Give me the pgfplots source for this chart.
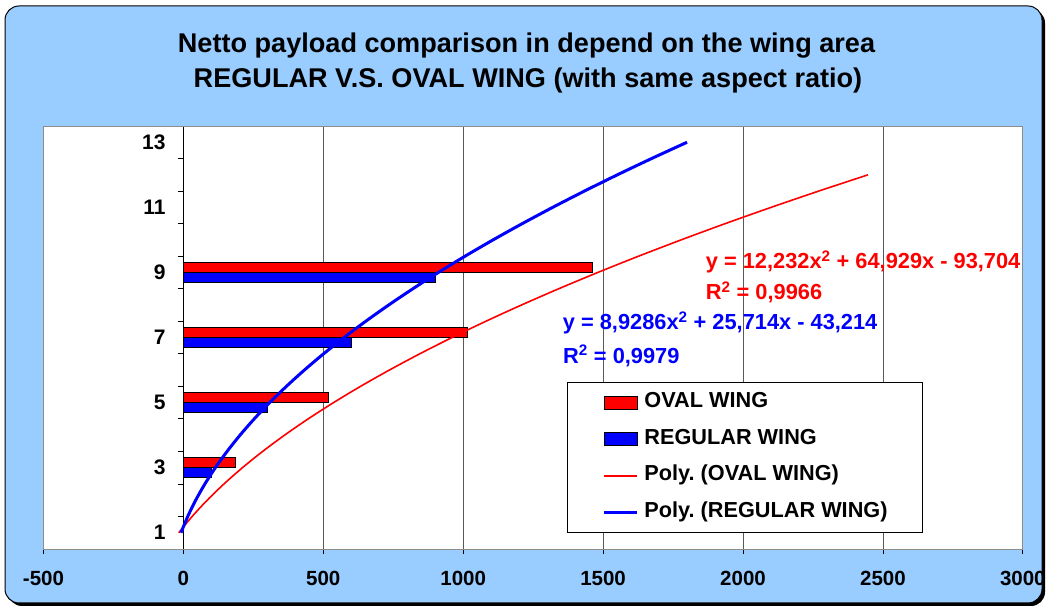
\documentclass[border=0pt]{standalone}
\usepackage{pgfplots}
\usepackage{pgfplotstable}
\pgfplotsset{compat=1.18}
\usepackage{fontspec}
\setmainfont{Liberation Sans}
\frenchspacing
\definecolor{bgblue}{HTML}{99CCFF}
\definecolor{xred}{HTML}{FF0000}
\definecolor{xblue}{HTML}{0000FF}

\pgfplotsset{
  mybarlegend/.style={legend image code/.code={\draw[##1] (0bp,-6.5bp) rectangle (33bp,6.5bp);}},
  redlinelegend/.style={legend image code/.code={\draw[draw=xred, line width=1.8bp] (0bp,0bp) -- (33bp,0bp);}},
  bluelinelegend/.style={legend image code/.code={\draw[draw=xblue, line width=3bp] (0bp,0bp) -- (33bp,0bp);}},
}

\pgfplotstableread{
val cat
185 3
520 5
1015 7
1460 9
}\ovaltable
\pgfplotstableread{
val cat
100 3
300 5
600 7
900 9
}\regtable
\pgfplotstableread{
val cat
-16.54 1
31.21 1.5
85.08 2
145.07 2.5
211.18 3
283.39 3.5
361.73 4
446.18 4.5
536.75 5
633.43 5.5
736.22 6
845.14 6.5
960.17 7
1081.32 7.5
1208.58 8
1341.96 8.5
1481.45 9
1627.07 9.5
1778.79 10
1936.63 10.5
2100.59 11
2270.66 11.5
2446.86 12
}\ovaltrend
\pgfplotstableread{
val cat
-8.57 1
15.45 1.5
43.93 2
76.88 2.5
114.29 3
156.16 3.5
202.50 4
253.30 4.5
308.57 5
368.31 5.5
432.50 6
501.16 6.5
574.29 7
651.88 7.5
733.93 8
820.45 8.5
911.44 9
1006.88 9.5
1106.79 10
1211.17 10.5
1320.00 11
1433.31 11.5
1551.08 12
1673.31 12.5
1800.00 13
}\regtrend

\begin{document}
\begin{tikzpicture}
\useasboundingbox (0,0) rectangle (1049bp,608bp);
\fill[black, rounded corners=14bp] (8bp,2bp) rectangle (1045bp,599bp);
\filldraw[fill=bgblue, draw=black, line width=1bp, rounded corners=14bp] (5bp,5bp) rectangle (1042bp,602bp);
\node[anchor=base, inner sep=0pt, font=\fontsize{27.1bp}{32bp}\selectfont\bfseries] at (526.5bp,555.7bp) {Netto payload comparison in depend on the wing area};
\node[anchor=base, inner sep=0pt, font=\fontsize{27.1bp}{32bp}\selectfont\bfseries] at (528bp,520.7bp) {REGULAR V.S. OVAL WING (with same aspect ratio)};

\begin{axis}[
  at={(43.5bp,59bp)}, anchor=south west,
  scale only axis, width=979.3bp, height=423bp,
  xmin=-500, xmax=3000, ymin=0.5, ymax=13.5,
  axis background/.style={fill=white},
  axis x line*=bottom, axis y line*=middle,
  xtick={-500,0,...,3000},
  xticklabels={-500,0,500,1000,1500,2000,2500,3000},
  xmajorgrids, major grid style={black!65, line width=0.8bp},
  ytick={0.5,1.5,...,13.5}, yticklabels={},
  extra y ticks={1,3,...,13},
  extra y tick labels={1,3,5,7,9,11,13},
  extra y tick style={major tick length=0pt},
  tick align=outside, major tick length=5bp,
  tick style={black, line width=0.8bp},
  axis line style={black, line width=1bp},
  ticklabel style={font=\fontsize{20.5bp}{24bp}\selectfont\bfseries, inner sep=0pt},
  yticklabel style={font=\fontsize{21bp}{24bp}\selectfont\bfseries},
  xticklabel style={anchor=north, yshift=-17bp},
  yticklabel style={anchor=east, xshift=-17.7bp},
  clip=false,
  legend style={at={(0.5346,0.3948)}, anchor=north west, draw=black, fill=white,
    line width=0.8bp, inner xsep=35bp, inner ysep=10.5bp, row sep=17bp, column sep=6bp,
    font=\fontsize{21.7bp}{24bp}\selectfont\bfseries,
    nodes={inner sep=0pt, text height=15bp, text depth=4.5bp}},
  legend cell align=left,
]
\draw[black!45, line width=0.8bp] (rel axis cs:0,0) rectangle (rel axis cs:1,1);
\addplot[xbar, bar width=0.31, bar shift=0.155, fill=xred, draw=black, line width=0.8bp, mybarlegend]
  table[x=val, y=cat] {\ovaltable};
\addlegendentry{OVAL WING}
\addplot[xbar, bar width=0.31, bar shift=-0.155, fill=xblue, draw=black, line width=0.8bp, mybarlegend]
  table[x=val, y=cat] {\regtable};
\addlegendentry{REGULAR WING}
\addplot[draw=xred, line width=1.6bp, smooth, no marks, redlinelegend]
  table[x=val, y=cat] {\ovaltrend};
\addlegendentry{Poly. (OVAL WING)}
\addplot[draw=xblue, line width=3bp, smooth, no marks, bluelinelegend]
  table[x=val, y=cat] {\regtrend};
\addlegendentry{Poly. (REGULAR WING)}
\end{axis}

\node[anchor=base west, inner sep=0pt, text=xred, font=\fontsize{21.8bp}{24bp}\selectfont\bfseries] at (705.7bp,339bp) {y = 12,232x\textsuperscript{2} + 64,929x - 93,704};
\node[anchor=base west, inner sep=0pt, text=xred, font=\fontsize{21.8bp}{24bp}\selectfont\bfseries] at (705.7bp,308bp) {R\textsuperscript{2} = 0,9966};
\node[anchor=base west, inner sep=0pt, text=xblue, font=\fontsize{21.8bp}{24bp}\selectfont\bfseries] at (562.7bp,278bp) {y = 8,9286x\textsuperscript{2} + 25,714x - 43,214};
\node[anchor=base west, inner sep=0pt, text=xblue, font=\fontsize{21.8bp}{24bp}\selectfont\bfseries] at (563bp,244.7bp) {R\textsuperscript{2} = 0,9979};
\end{tikzpicture}
\end{document}
